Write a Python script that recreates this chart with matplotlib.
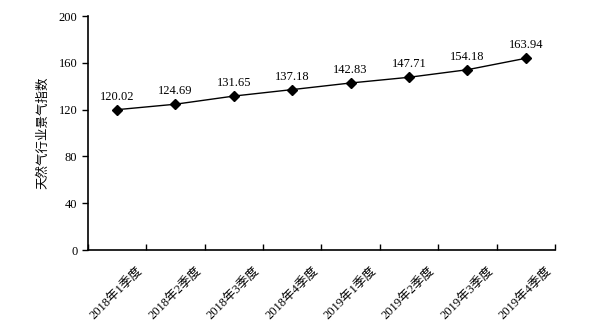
import numpy as np
import matplotlib
matplotlib.use('Agg')
import matplotlib.pyplot as plt

plt.rcParams['font.family'] = ['Liberation Serif', 'Noto Sans CJK SC']

# 数据
quarters = ['2018年1季度', '2018年2季度', '2018年3季度', '2018年4季度',
            '2019年1季度', '2019年2季度', '2019年3季度', '2019年4季度']
index_vals = [120.02, 124.69, 131.65, 137.18, 142.83, 147.71, 154.18, 163.94]
y_ticks = [0, 40, 80, 120, 160, 200]

fig = plt.figure(figsize=(5.98, 3.29), dpi=100)
ax = fig.add_axes([0.147, 0.240, 0.781, 0.711])

x = np.arange(len(quarters))
ax.plot(x, index_vals, color='black', linewidth=1.0, marker='D', markersize=5,
        markerfacecolor='black', markeredgecolor='black')

for xi, v in zip(x, index_vals):
    ax.annotate(f'{v:.2f}', (xi, v), textcoords='offset points', xytext=(0, 5),
                ha='center', va='bottom', fontsize=9)

ax.set_xlim(-0.5, len(quarters) - 0.5)
ax.set_ylim(0, 200)
ax.set_yticks(y_ticks)
ax.tick_params(axis='y', direction='out', length=4, width=1, labelsize=9)

# 类别轴：刻度线在类别边界
ax.set_xticks(x)
ax.set_xticklabels(quarters, rotation=45, ha='center', va='top', fontsize=9)
ax.tick_params(axis='x', which='major', length=0, pad=11)
ax.set_xticks(np.arange(-0.5, len(quarters), 1.0), minor=True)
ax.tick_params(axis='x', which='minor', direction='in', length=4, width=1)

ax.spines['top'].set_visible(False)
ax.spines['right'].set_visible(False)
ax.spines['left'].set_linewidth(1.2)
ax.spines['bottom'].set_linewidth(1.2)

ax.set_ylabel('天然气行业景气指数', fontsize=9, family=['Noto Sans CJK SC'], labelpad=7)

fig.savefig('out.png', dpi=100)
